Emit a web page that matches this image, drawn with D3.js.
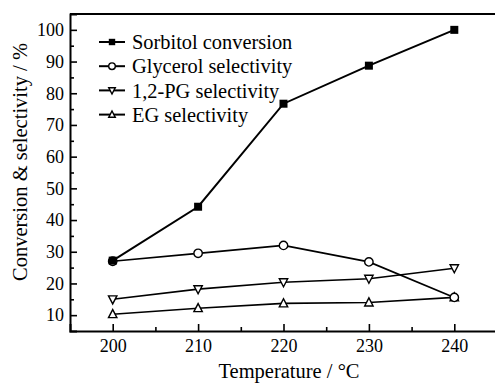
<!DOCTYPE html>
<html>
<head>
<meta charset="utf-8">
<script src="https://cdn.jsdelivr.net/npm/d3@7"></script>
<style>
  body { margin: 0; background: #fff; }
  text { font-family: "Liberation Serif", "Times New Roman", serif; fill: #000; }
</style>
</head>
<body>
<div id="chart"></div>
<script>
const temperatures = [200, 210, 220, 230, 240]
const sorbitolConversion = [27.2, 44.2, 76.7, 88.7, 100]
const glycerolSelectivity = [27.0, 29.5, 32.0, 26.8, 15.6]
const pgSelectivity = [15.0, 18.2, 20.4, 21.5, 24.8]
const egSelectivity = [10.3, 12.2, 13.7, 14.0, 15.6]
const seriesNames = ["Sorbitol conversion", "Glycerol selectivity", "1,2-PG selectivity", "EG selectivity"]
const xTicks = [200, 210, 220, 230, 240]
const yTicks = [10, 20, 30, 40, 50, 60, 70, 80, 90, 100]

const width = 495, height = 383
const margin = { top: 14, right: -2, bottom: 52, left: 70 }

const series = [
    { name: seriesNames[0], values: sorbitolConversion, symbol: "square", width: 2 },
    { name: seriesNames[1], values: glycerolSelectivity, symbol: "circle", width: 1.6 },
    { name: seriesNames[2], values: pgSelectivity, symbol: "down", width: 1.6 },
    { name: seriesNames[3], values: egSelectivity, symbol: "up", width: 1.6 }
]

const x = d3.scaleLinear()
    .domain([195, 245])
    .range([margin.left, width - margin.right])

const y = d3.scaleLinear()
    .domain([5, 105])
    .range([height - margin.bottom, margin.top])

const svg = d3.select("#chart")
    .append("svg")
    .attr("width", width)
    .attr("height", height)

// marker shapes
function drawMarker(g, symbol, s) {
    if (symbol == "square") {
        g.append("rect").attr("x", -s).attr("y", -s).attr("width", 2 * s).attr("height", 2 * s)
            .attr("fill", "#000")
    } else if (symbol == "circle") {
        g.append("circle").attr("r", s).attr("fill", "#fff").attr("stroke", "#000").attr("stroke-width", 1.4)
    } else {
        const h = s * 1.1
        const pts = symbol == "down"
            ? [[-s, -h * 0.75], [s, -h * 0.75], [0, h]]
            : [[-s, h * 0.75], [s, h * 0.75], [0, -h]]
        g.append("polygon").attr("points", pts.map(p => p.join(",")).join(" "))
            .attr("fill", "#fff").attr("stroke", "#000").attr("stroke-width", 1.4)
    }
}

// axes with inward ticks
const xAxis = g => g
    .attr("transform", `translate(0,${height - margin.bottom})`)
    .call(d3.axisBottom(x).tickValues(xTicks).tickSize(-7).tickPadding(8).tickFormat(d3.format("d")))
    .call(g => g.selectAll(".tick text").attr("font-size", 18).attr("dy", "0.71em"))

const xMinor = g => g
    .attr("transform", `translate(0,${height - margin.bottom})`)
    .call(d3.axisBottom(x).tickValues([205, 215, 225, 235]).tickSize(-4).tickFormat(""))
    .call(g => g.select(".domain").remove())

const yAxis = g => g
    .attr("transform", `translate(${margin.left},0)`)
    .call(d3.axisLeft(y).tickValues(yTicks).tickSize(-7).tickPadding(6))
    .call(g => g.selectAll(".tick text").attr("font-size", 18))

const yMinor = g => g
    .attr("transform", `translate(${margin.left},0)`)
    .call(d3.axisLeft(y).tickValues(d3.range(15, 105, 10)).tickSize(-4).tickFormat(""))
    .call(g => g.select(".domain").remove())

svg.append("g").call(xMinor)
svg.append("g").call(yMinor)
svg.append("g").call(xAxis)
svg.append("g").call(yAxis)

svg.selectAll(".domain").attr("stroke-width", 2)
svg.selectAll(".tick line").attr("stroke-width", 1.6)

// top border
svg.append("line")
    .attr("x1", margin.left).attr("x2", width - margin.right)
    .attr("y1", margin.top).attr("y2", margin.top)
    .attr("stroke", "#000").attr("stroke-width", 2)

const line = d3.line()
    .x((d, i) => x(temperatures[i]))
    .y(d => y(d))

// draw back to front so sorbitol squares sit on top
for (const s of series.slice().reverse()) {
    svg.append("path")
        .datum(s.values)
        .attr("fill", "none")
        .attr("stroke", "#000")
        .attr("stroke-width", s.width)
        .attr("d", line)
}
for (const s of series.slice().reverse()) {
    s.values.forEach((v, i) => {
        const g = svg.append("g").attr("transform", `translate(${x(temperatures[i])},${y(v)})`)
        drawMarker(g, s.symbol, s.symbol == "square" ? 4 : 4.2)
    })
}

// legend
const legend = svg.append("g").attr("transform", "translate(99,42)")
series.forEach((s, i) => {
    const row = legend.append("g").attr("transform", `translate(0,${i * 24.2})`)
    row.append("line").attr("x1", 0).attr("x2", 26).attr("stroke", "#000").attr("stroke-width", 2)
    const m = row.append("g").attr("transform", "translate(13,0)")
    drawMarker(m, s.symbol, s.symbol == "square" ? 3.2 : 3.3)
    row.append("text")
        .attr("x", 33)
        .attr("dy", "0.35em")
        .attr("font-size", 20.4)
        .text(s.name)
})

// axis titles
svg.append("text")
    .attr("x", 289)
    .attr("y", 378)
    .attr("text-anchor", "middle")
    .attr("font-size", 20.5)
    .text("Temperature / \u00B0C")

svg.append("text")
    .attr("transform", "translate(27,162) rotate(-90)")
    .attr("text-anchor", "middle")
    .attr("font-size", 20.5)
    .text("Conversion & selectivity / %")
</script>
</body>
</html>
